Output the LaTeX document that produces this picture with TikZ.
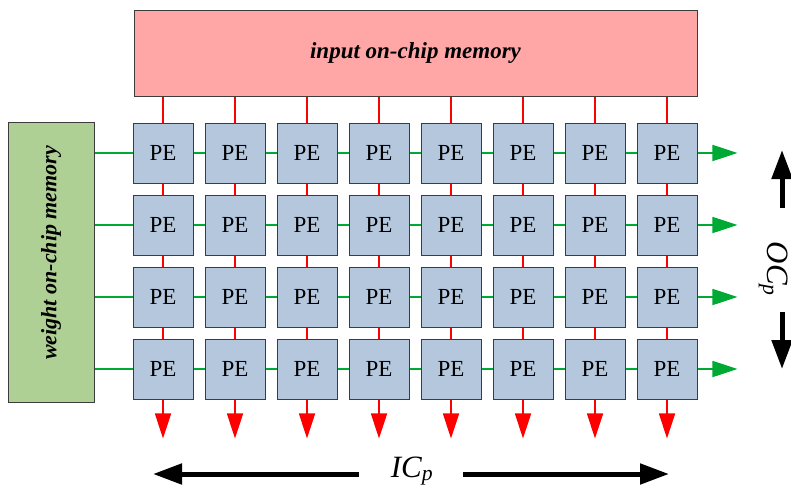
\documentclass[tikz,border=0pt]{standalone}
\usepackage{fontspec}
\setmainfont{Liberation Serif}
\usepackage{graphicx}
\usetikzlibrary{positioning,arrows.meta,backgrounds,calc}

\definecolor{memred}{HTML}{FFA6A6}
\definecolor{memgreen}{HTML}{AFD095}
\definecolor{peblue}{HTML}{B4C7DC}
\definecolor{busgreen}{HTML}{00A933}
\definecolor{edgegray}{HTML}{3C3C3C}

\tikzset{
  pe/.style={draw=edgegray, fill=peblue, line width=0.9pt,
    minimum width=60pt, minimum height=60pt, inner sep=0pt,
    font=\fontsize{23}{26}\selectfont},
  mem/.style={draw=edgegray, line width=0.9pt, inner sep=0pt},
  memlabel/.style={font=\fontsize{23}{26}\selectfont\bfseries\itshape},
  inbus/.style={red, line width=1.8pt, -{Triangle[length=25pt,width=16pt]}},
  wbus/.style={busgreen, line width=1.8pt, -{Triangle[length=25pt,width=16pt]}},
  dimarrow/.style={line width=5pt, -{Triangle[length=29pt,width=20pt]}},
  dimlabel/.style={font=\fontsize{31}{36}\selectfont\itshape, inner sep=0pt},
}

\begin{document}
\begin{tikzpicture}[x=1pt,y=-1pt]
\useasboundingbox (0,0) rectangle (791,484);
% the two on-chip memories
\node[mem, memlabel, fill=memred, minimum width=563pt, minimum height=86pt] (inmem) at (415.5,53) {input on-chip memory};
\node[mem, fill=memgreen, minimum width=86pt, minimum height=280pt] (wmem) at (51,262) {};
\node[memlabel, font=\fontsize{22}{26}\selectfont\bfseries\itshape, rotate=90] (wlabel) at ([yshift=9pt]wmem.center) {weight on-chip memory};
% 4 x 8 array of PEs
\foreach \r in {1,...,4}
  \foreach \c in {1,...,8}
    \node[pe] (pe-\r-\c) at ({163+72*(\c-1)}, {153+72*(\r-1)}) {PE};
% free ends of the buses
\foreach \c in {1,...,8}
  \coordinate (intip-\c) at ([yshift=-39pt]pe-4-\c.south);
\foreach \r in {1,...,4}
  \coordinate (wtip-\r) at ([xshift=40pt]pe-\r-8.east);
% buses run underneath the PEs
\begin{scope}[on background layer]
  \foreach \c in {1,...,8}
    \draw[inbus] (inmem.south -| pe-1-\c) -- (intip-\c);
  \foreach \r in {1,...,4}
    \draw[wbus] (wmem.east |- pe-\r-1) -- (wtip-\r);
\end{scope}
% parallelism labels
\node[dimlabel, anchor=base] (icp) at (412,477) {IC\textsubscript{p}};
\node[dimlabel, rotate=-90, anchor=base] (ocp) at (767,269) {OC\textsubscript{p}};
\coordinate (icl-s) at (359,474); \coordinate (icl-t) at (153,474);
\coordinate (icr-s) at (463,474); \coordinate (icr-t) at (669,474);
\coordinate (ocu-s) at (782,208); \coordinate (ocu-t) at (782,150);
\coordinate (ocd-s) at (782,312); \coordinate (ocd-t) at (782,369);
\draw[dimarrow] (icl-s) -- (icl-t);
\draw[dimarrow] (icr-s) -- (icr-t);
\draw[dimarrow] (ocu-s) -- (ocu-t);
\draw[dimarrow] (ocd-s) -- (ocd-t);
\end{tikzpicture}
\end{document}
